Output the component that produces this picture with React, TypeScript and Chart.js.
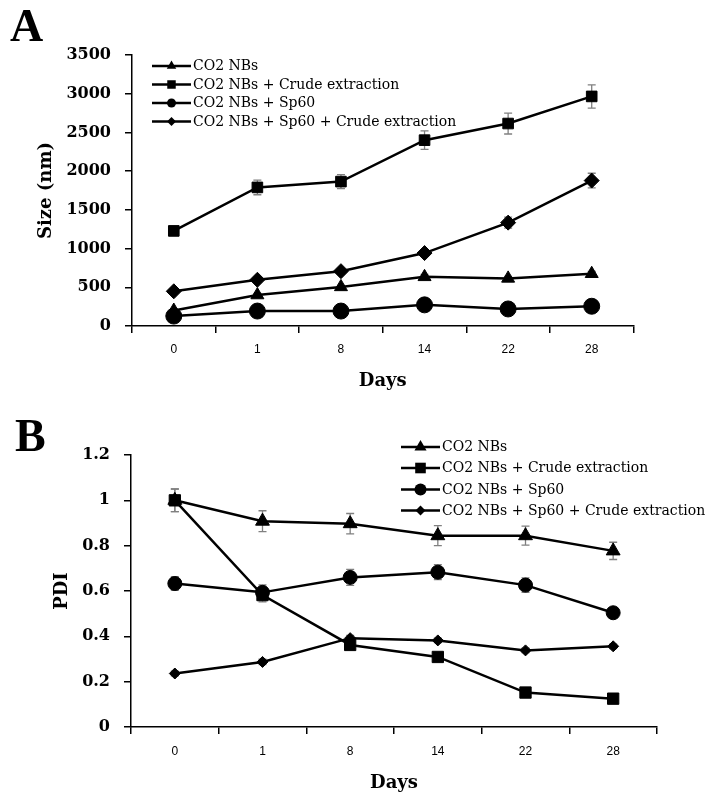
import { useEffect, useRef } from 'react';
import { Chart, registerables } from 'chart.js';

Chart.register(...registerables);

// Sampling days (categorical axis)
const days = ['0', '1', '8', '14', '22', '28'];

const seriesNames = [
  'CO2 NBs',
  'CO2 NBs + Crude extraction',
  'CO2 NBs + Sp60',
  'CO2 NBs + Sp60 + Crude extraction',
];

// Panel A: particle size (nm)
const sizeNBs = [200, 400, 505, 635, 615, 675];
const sizeCrude = [1228, 1790, 1865, 2400, 2615, 2965];
const sizeSp60 = [128, 193, 193, 273, 220, 255];
const sizeSp60Crude = [448, 597, 708, 942, 1335, 1878];

const sizeNBsErr = [15, 20, 20, 30, 25, 30];
const sizeCrudeErr = [30, 95, 90, 120, 135, 150];
const sizeSp60Err = [10, 10, 10, 15, 10, 10];
const sizeSp60CrudeErr = [20, 30, 30, 40, 70, 95];

// Panel B: polydispersity index
const pdiNBs = [1.0, 0.908, 0.897, 0.844, 0.844, 0.777];
const pdiCrude = [1.0, 0.582, 0.362, 0.309, 0.152, 0.125];
const pdiSp60 = [0.633, 0.594, 0.66, 0.683, 0.626, 0.504];
const pdiSp60Crude = [0.236, 0.287, 0.392, 0.382, 0.338, 0.356];

const pdiNBsErr = [0.05, 0.046, 0.045, 0.044, 0.042, 0.038];
const pdiCrudeErr = [0.05, 0.03, 0.015, 0.015, 0.015, 0.015];
const pdiSp60Err = [0.03, 0.033, 0.035, 0.033, 0.032, 0.015];
const pdiSp60CrudeErr = [0.01, 0.012, 0.012, 0.01, 0.01, 0.01];

// Axis ranges
const sizeMin = 0;
const sizeMax = 3500;
const sizeStep = 500;
const pdiMin = 0;
const pdiMax = 1.2;
const pdiStep = 0.2;

const SERIF = '"DejaVu Serif", serif';
const SANS = '"Liberation Sans", Arial, sans-serif';

type Marker = 'triangle' | 'rect' | 'circle' | 'rectRot';

function drawMarker(ctx: CanvasRenderingContext2D, kind: Marker, x: number, y: number, r: number) {
  ctx.beginPath();
  if (kind === 'circle') {
    ctx.arc(x, y, r, 0, Math.PI * 2);
  } else if (kind === 'rect') {
    const s = r * Math.SQRT1_2;
    ctx.rect(x - s, y - s, 2 * s, 2 * s);
  } else if (kind === 'rectRot') {
    ctx.moveTo(x - r, y);
    ctx.lineTo(x, y - r);
    ctx.lineTo(x + r, y);
    ctx.lineTo(x, y + r);
    ctx.closePath();
  } else {
    const h = r * Math.cos(Math.PI / 6);
    ctx.moveTo(x, y - r);
    ctx.lineTo(x + h, y + r / 2);
    ctx.lineTo(x - h, y + r / 2);
    ctx.closePath();
  }
  ctx.fill();
}

const errorBarPlugin = {
  id: 'errorBars',
  beforeDatasetsDraw(chart: any) {
    const { ctx } = chart;
    const yScale = chart.scales.y;
    ctx.save();
    ctx.strokeStyle = '#808080';
    ctx.lineWidth = 1.3;
    chart.data.datasets.forEach((ds: any, i: number) => {
      const meta = chart.getDatasetMeta(i);
      const errs: number[] = ds.errors || [];
      meta.data.forEach((pt: any, j: number) => {
        const v = ds.data[j] as number;
        const e = errs[j] || 0;
        const x = pt.x;
        const yTop = yScale.getPixelForValue(v + e);
        const yBot = yScale.getPixelForValue(v - e);
        ctx.beginPath();
        ctx.moveTo(x, yTop);
        ctx.lineTo(x, yBot);
        ctx.moveTo(x - 4, yTop);
        ctx.lineTo(x + 4, yTop);
        ctx.moveTo(x - 4, yBot);
        ctx.lineTo(x + 4, yBot);
        ctx.stroke();
      });
    });
    ctx.restore();
  },
};

// Custom in-plot legend plus panel letter
const annotatePlugin = {
  id: 'annotate',
  afterDraw(chart: any) {
    const o = chart.options.plugins.annotate;
    if (!o) return;
    const { ctx } = chart;
    ctx.save();
    ctx.fillStyle = '#000';
    ctx.font = `bold ${o.letterSize}px "Liberation Serif", serif`;
    ctx.textBaseline = 'alphabetic';
    ctx.textAlign = 'left';
    ctx.fillText(o.letter, o.letterX, o.letterY);

    ctx.font = `14px ${SERIF}`;
    ctx.textBaseline = 'middle';
    chart.data.datasets.forEach((ds: any, i: number) => {
      const y = o.rows[i];
      ctx.strokeStyle = '#000';
      ctx.lineWidth = 2.5;
      ctx.beginPath();
      ctx.moveTo(o.x0, y);
      ctx.lineTo(o.x1, y);
      ctx.stroke();
      drawMarker(ctx, ds.pointStyle, (o.x0 + o.x1) / 2, y, o.markerR[i]);
      ctx.fillText(ds.label, o.textX, y + 0.5);
    });
    ctx.restore();
  },
};

type PanelSpec = {
  values: number[][];
  errors: number[][];
  radii: number[];
  min: number;
  max: number;
  step: number;
  yTitle: string;
  yWidth: number;
  yTitlePad: number;
  xHeight: number;
  xTickPad: number;
  xTitlePad: number;
  padRight: number;
  padTop: number;
  annotate: any;
};

const styles: Marker[] = ['triangle', 'rect', 'circle', 'rectRot'];
const drawOrder = [4, 1, 2, 3];

function makeChart(canvas: HTMLCanvasElement, p: PanelSpec) {
  const axisColor = '#000';
  return new Chart(canvas, {
    type: 'line',
    data: {
      labels: days,
      datasets: p.values.map((vals, i) => ({
        label: seriesNames[i],
        data: vals,
        errors: p.errors[i],
        order: drawOrder[i],
        borderColor: '#000',
        backgroundColor: '#000',
        borderWidth: 2.5,
        tension: 0,
        pointStyle: styles[i],
        pointRadius: p.radii[i],
        pointBackgroundColor: '#000',
        pointBorderColor: '#000',
        pointBorderWidth: 1,
      })) as any,
    },
    options: {
      animation: false,
      responsive: false,
      events: [],
      layout: { padding: { left: 0, right: p.padRight, top: p.padTop, bottom: 0 } },
      plugins: {
        legend: { display: false },
        tooltip: { enabled: false },
        annotate: p.annotate,
      } as any,
      scales: {
        x: {
          type: 'category',
          offset: true,
          grid: {
            offset: true,
            drawOnChartArea: false,
            drawTicks: true,
            tickLength: 7,
            color: axisColor,
            lineWidth: 1.5,
          },
          border: { color: axisColor, width: 1.5 },
          ticks: {
            color: '#000',
            font: { family: SANS, size: 12 },
            padding: p.xTickPad,
            maxRotation: 0,
            autoSkip: false,
          },
          title: {
            display: true,
            text: 'Days',
            color: '#000',
            font: { family: SERIF, size: 18, weight: 'bold' },
            padding: { top: 0, bottom: p.xTitlePad },
          },
          afterFit: (s: any) => {
            s.height = p.xHeight;
          },
        },
        y: {
          min: p.min,
          max: p.max,
          grid: {
            drawOnChartArea: false,
            drawTicks: true,
            tickLength: 7,
            color: axisColor,
            lineWidth: 1.5,
          },
          border: { color: axisColor, width: 1.5 },
          ticks: {
            stepSize: p.step,
            color: '#000',
            font: { family: SERIF, size: 16, weight: 'bold' },
            padding: 14,
            callback: (v: any) => String(Number(Number(v).toFixed(2))),
          },
          title: {
            display: true,
            text: p.yTitle,
            color: '#000',
            font: { family: SERIF, size: 18, weight: 'bold' },
            padding: { top: p.yTitlePad, bottom: 0 },
          },
          afterFit: (s: any) => {
            s.width = p.yWidth;
          },
        },
      },
    } as any,
    plugins: [errorBarPlugin, annotatePlugin],
  });
}

export default function App() {
  const refA = useRef<HTMLCanvasElement>(null);
  const refB = useRef<HTMLCanvasElement>(null);

  useEffect(() => {
    if (!refA.current || !refB.current) return;
    const a = makeChart(refA.current, {
      values: [sizeNBs, sizeCrude, sizeSp60, sizeSp60Crude],
      errors: [sizeNBsErr, sizeCrudeErr, sizeSp60Err, sizeSp60CrudeErr],
      radii: [7.5, 7.5, 8, 7.5],
      min: sizeMin,
      max: sizeMax,
      step: sizeStep,
      yTitle: 'Size (nm)',
      yWidth: 132,
      yTitlePad: 36,
      xHeight: 74,
      xTickPad: 9,
      xTitlePad: 7.5,
      padRight: 73.5,
      padTop: 55,
      annotate: {
        letter: 'A',
        letterSize: 46,
        letterX: 10,
        letterY: 41,
        x0: 152,
        x1: 191,
        textX: 193,
        rows: [66, 84.5, 103, 121.5],
        markerR: [5.5, 6, 4.5, 4.5],
      },
    });
    const b = makeChart(refB.current, {
      values: [pdiNBs, pdiCrude, pdiSp60, pdiSp60Crude],
      errors: [pdiNBsErr, pdiCrudeErr, pdiSp60Err, pdiSp60CrudeErr],
      radii: [8, 8, 7, 5.5],
      min: pdiMin,
      max: pdiMax,
      step: pdiStep,
      yTitle: 'PDI',
      yWidth: 131,
      yTitlePad: 52,
      xHeight: 72,
      xTickPad: 10,
      xTitlePad: 5,
      padRight: 50,
      padTop: 55,
      annotate: {
        letter: 'B',
        letterSize: 46,
        letterX: 15,
        letterY: 51,
        x0: 401,
        x1: 440,
        textX: 442,
        rows: [47, 68, 89.5, 110.5],
        markerR: [7, 7.5, 6, 5],
      },
    });
    return () => {
      a.destroy();
      b.destroy();
    };
  }, []);

  return (
    <div style={{ position: 'absolute', left: 0, top: 0, width: 707, height: 799, background: '#fff' }}>
      <canvas ref={refA} width={707} height={400} style={{ position: 'absolute', left: 0, top: 0, display: 'block' }} />
      <canvas ref={refB} width={707} height={399} style={{ position: 'absolute', left: 0, top: 400, display: 'block' }} />
    </div>
  );
}
